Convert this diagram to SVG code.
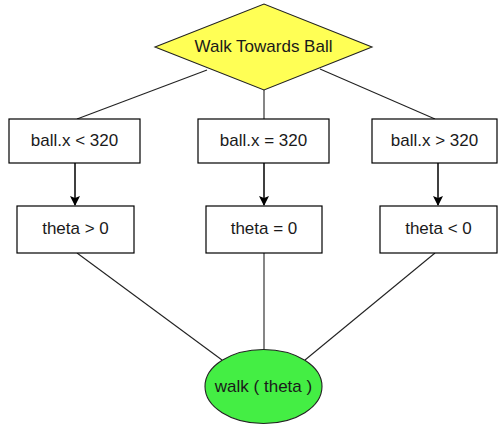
<svg xmlns="http://www.w3.org/2000/svg" width="499" height="425" viewBox="0 0 499 425">
<style>
.box{fill:#ffffff;stroke:#000000;stroke-width:1.2}
.t{font-family:"Liberation Sans",Arial,sans-serif;font-size:17px;fill:#1a1a1a;text-anchor:middle;dominant-baseline:central}
.ln{stroke:#222222;stroke-width:1.1;fill:none}
.ar{stroke:#000000;stroke-width:1.5;fill:none}
</style>
<defs>
<marker id="ah" markerWidth="10" markerHeight="10" refX="9" refY="5" orient="auto" markerUnits="userSpaceOnUse">
<path d="M0,0 L10,5 L0,10 L2,5 Z" fill="#000000"/>
</marker>
</defs>
<rect width="499" height="425" fill="#ffffff"/>
<g id="connectors">
<line class="ln" x1="207" y1="70" x2="77" y2="119"/>
<line class="ln" x1="264" y1="90" x2="264" y2="119"/>
<line class="ln" x1="320" y1="69" x2="435" y2="119"/>
<line class="ar" x1="75" y1="163" x2="75" y2="205" marker-end="url(#ah)"/>
<line class="ar" x1="264" y1="163" x2="264" y2="205" marker-end="url(#ah)"/>
<line class="ar" x1="438" y1="163" x2="438" y2="205" marker-end="url(#ah)"/>
<line class="ln" x1="77" y1="253" x2="222" y2="360"/>
<line class="ln" x1="264" y1="253" x2="264" y2="350"/>
<line class="ln" x1="435" y1="253" x2="305" y2="360"/>
</g>
<g id="decision">
<polygon points="155,47 264,4 372,47 264,90" fill="#ffff55" stroke="#222222" stroke-width="1.1"/>
<text class="t" x="263.5" y="46">Walk Towards Ball</text>
</g>
<g id="cond-left">
<rect class="box" x="9" y="119" width="131" height="44"/>
<text class="t" x="74.5" y="140">ball.x &lt; 320</text>
</g>
<g id="cond-mid">
<rect class="box" x="198" y="119" width="131" height="44"/>
<text class="t" x="263.5" y="140">ball.x = 320</text>
</g>
<g id="cond-right">
<rect class="box" x="372" y="119" width="125" height="44"/>
<text class="t" x="434.5" y="140">ball.x &gt; 320</text>
</g>
<g id="theta-left">
<rect class="box" x="17" y="206" width="117" height="47"/>
<text class="t" x="75.5" y="228.5">theta &gt; 0</text>
</g>
<g id="theta-mid">
<rect class="box" x="206" y="206" width="116" height="47"/>
<text class="t" x="264" y="228.5">theta = 0</text>
</g>
<g id="theta-right">
<rect class="box" x="380" y="206" width="117" height="47"/>
<text class="t" x="438.5" y="228.5">theta &lt; 0</text>
</g>
<g id="walk">
<ellipse cx="263.5" cy="386.5" rx="58.5" ry="37" fill="#44ee44" stroke="#222222" stroke-width="1.1"/>
<text class="t" x="263.5" y="386">walk ( theta )</text>
</g>
</svg>
